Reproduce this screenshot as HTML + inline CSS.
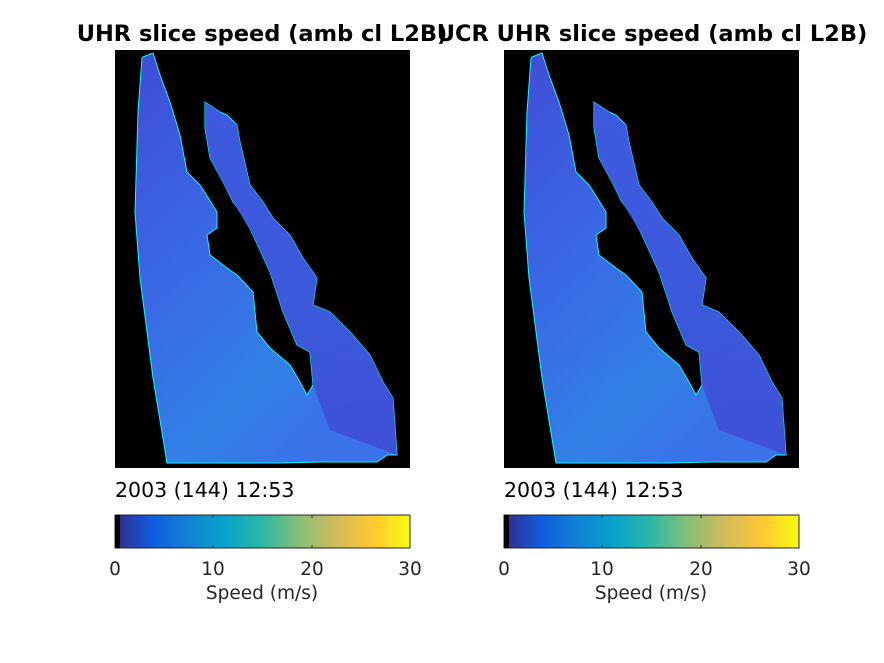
<!DOCTYPE html>
<html><head><style>body{margin:0;background:#fff}svg{display:block}</style></head><body>
<svg width="884" height="663" xmlns="http://www.w3.org/2000/svg" font-family="DejaVu Sans, sans-serif">
<defs>
<linearGradient id="oc" x1="0" y1="0" x2="0.6" y2="1">
<stop offset="0" stop-color="#3f4dd6"/><stop offset="0.45" stop-color="#3a68e6"/><stop offset="0.8" stop-color="#3280e6"/><stop offset="1" stop-color="#3a72ea"/></linearGradient>
<linearGradient id="gulf" x1="0" y1="0" x2="0" y2="1">
<stop offset="0" stop-color="#3d5ae0"/><stop offset="1" stop-color="#3f48d2"/></linearGradient>
<linearGradient id="par" x1="0" y1="0" x2="1" y2="0">
<stop offset="0" stop-color="#352a87"/><stop offset="0.125" stop-color="#0f5cdd"/><stop offset="0.25" stop-color="#1481d6"/><stop offset="0.375" stop-color="#06a4ca"/><stop offset="0.5" stop-color="#2eb7a4"/><stop offset="0.625" stop-color="#87bf77"/><stop offset="0.75" stop-color="#d1bb59"/><stop offset="0.875" stop-color="#fec832"/><stop offset="1" stop-color="#f9fb0e"/></linearGradient>
<g id="map">
<rect x="115" y="50" width="295" height="418" fill="#000"/>
<polygon fill="url(#oc)" stroke="#00ffff" stroke-width="1" points="143,57 153,53 160,75 170,102 180,135 187,172 200,185 217,212 217,228 207,235 210,255 227,268 237,275 253,292 257,332 270,348 290,365 300,382 307,395 313,385 310,352 297,345 283,312 270,272 253,235 243,215 233,202 223,182 210,158 205,128 205,102 220,112 227,115 237,125 240,142 250,185 263,202 273,218 290,235 303,258 317,278 313,305 330,312 350,332 370,355 383,382 393,398 397,455 387,455 377,462 323,462 277,463 167,463 153,378 140,278 135,212 138,112 142,58"/>
<polygon fill="url(#gulf)" opacity="0.8" points="205,102 220,112 237,125 240,142 250,185 263,202 273,218 290,235 303,258 317,278 313,305 330,312 350,332 370,355 383,382 393,398 397,455 330,430 313,385 310,352 297,345 283,312 270,272 253,235 233,202 210,158 205,128"/>
</g>
</defs>
<use href="#map"/>
<use href="#map" x="389"/>
<g font-size="22.5" font-weight="bold" text-anchor="middle" fill="#000">
<text x="262" y="41">UHR slice speed (amb cl L2B)</text>
<text x="652" y="41">UCR UHR slice speed (amb cl L2B)</text>
</g>
<g font-size="20.5" fill="#000">
<text x="115" y="497">2003 (144) 12:53</text>
<text x="504" y="497">2003 (144) 12:53</text>
</g>
<g id="cb">
<rect x="115" y="515" width="295" height="33" fill="url(#par)" stroke="#262626" stroke-width="1"/>
<rect x="115" y="515" width="5" height="33" fill="#000"/>
<g stroke="#262626"><line x1="213" y1="515" x2="213" y2="518"/><line x1="312" y1="515" x2="312" y2="518"/><line x1="213" y1="548" x2="213" y2="545"/><line x1="312" y1="548" x2="312" y2="545"/></g>
<g font-size="18.5" fill="#262626" text-anchor="middle">
<text x="115" y="575">0</text><text x="213" y="575">10</text><text x="312" y="575">20</text><text x="410" y="575">30</text>
<text x="262" y="599">Speed (m/s)</text></g>
</g>
<use href="#cb" x="389"/>
</svg>
</body></html>
